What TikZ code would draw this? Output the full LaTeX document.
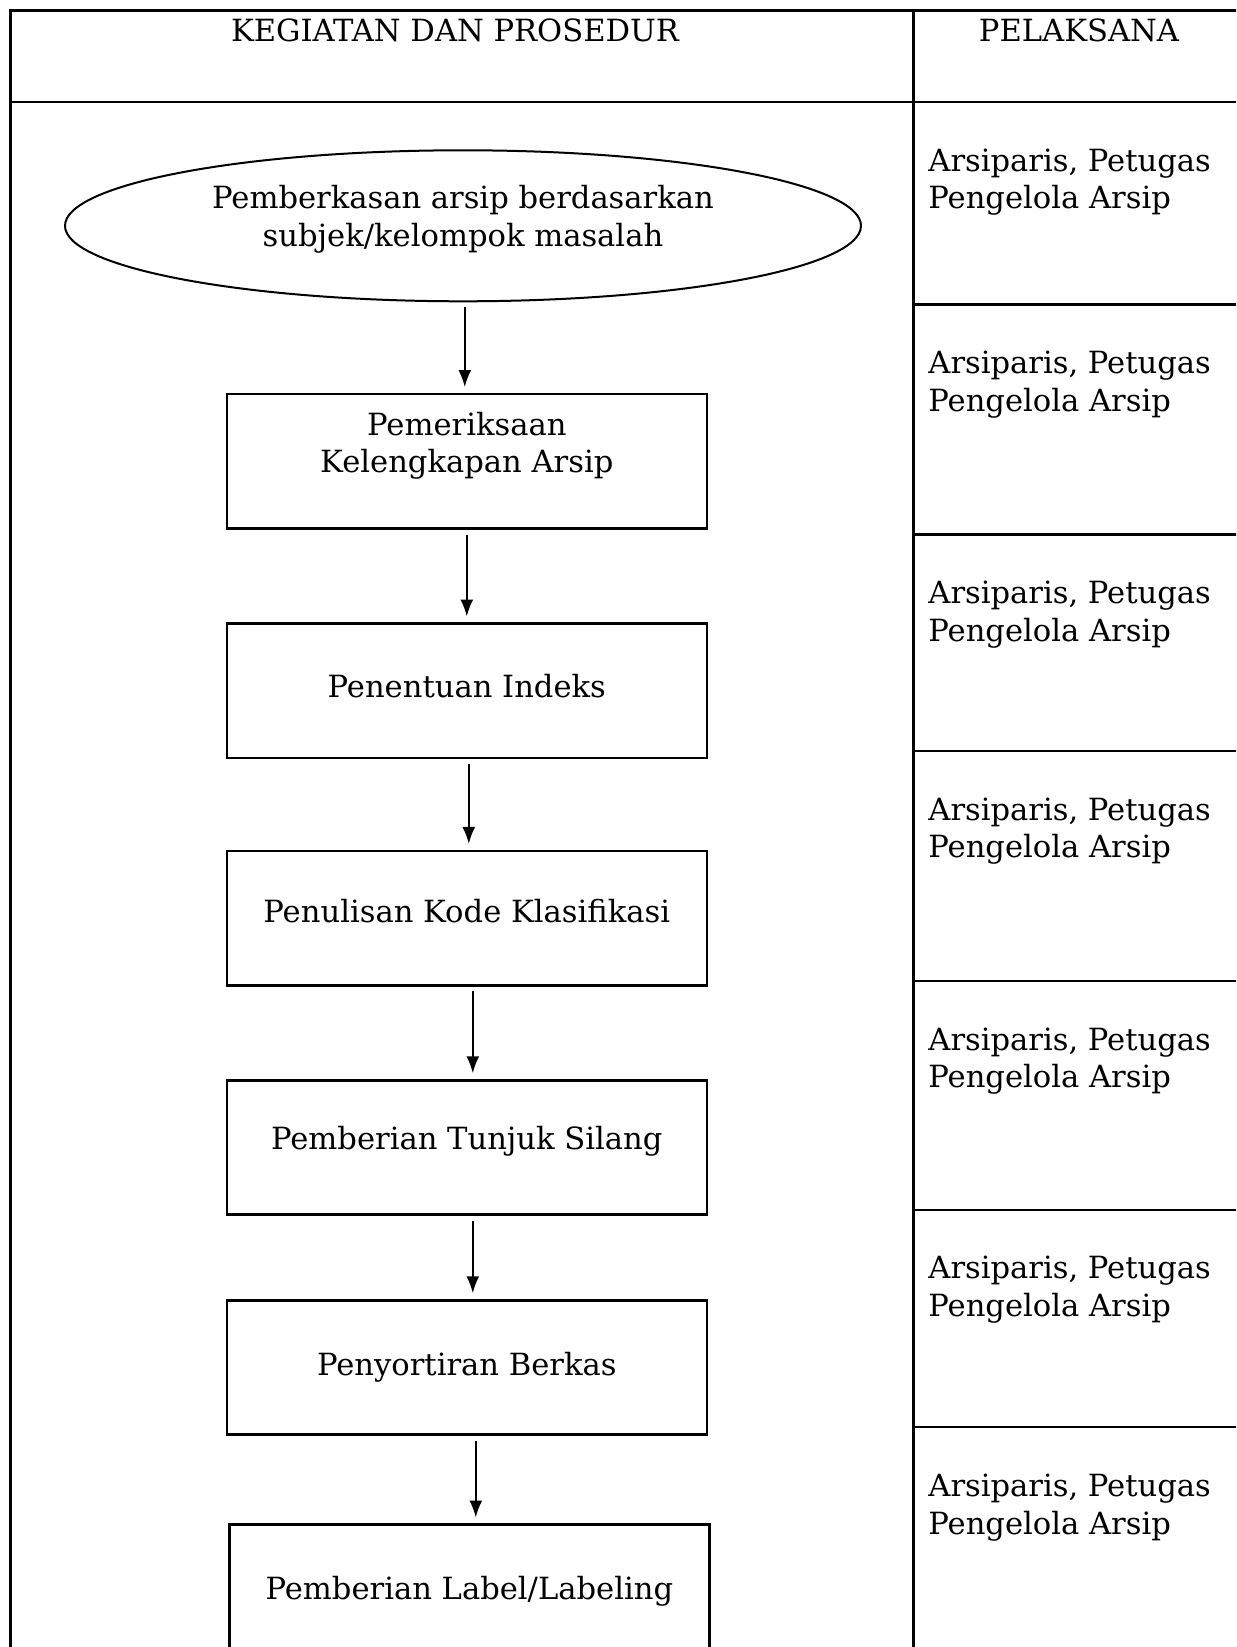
\documentclass[tikz,border=0pt]{standalone}
\usepackage{fontspec}
\setmainfont{DejaVu Serif}
\usetikzlibrary{positioning, shapes.geometric, arrows.meta}

\begin{document}
\begin{tikzpicture}[x=0.5pt, y=-0.5pt,
	font=\fontsize{15.3}{18.9}\selectfont,
	garis/.style={line width=1.2pt},
	lonjong/.style={draw, ellipse, line width=1pt, inner sep=0pt,
		minimum width=398pt, minimum height=75.5pt, align=center},
	kotak/.style={draw, line width=1.3pt, inner sep=2pt,
		minimum width=240pt, minimum height=67.2pt, align=center},
	panah/.style={-{Latex[length=8.5pt, width=6.5pt]}, line width=1pt,
		shorten <=2.4pt, shorten >=2.8pt},
	pelaksana/.style={anchor=base west, align=left, inner sep=0pt}]
	\useasboundingbox (0,0) rectangle (1236,1647);
	\clip (0,0) rectangle (1236,1647);
	
	% tabel
	\draw[garis] (1260,10.5) -- (10.5,10.5) -- (10.5,1670);
	\draw[garis] (913.6,10.5) -- (913.6,1670);
	\draw[garis] (10.5,101.9) -- (1260,101.9);
	\draw[garis] (913.6,304.5) -- (1260,304.5);
	\draw[garis] (913.6,534.5) -- (1260,534.5);
	\draw[garis] (913.6,750.8) -- (1260,750.8);
	\draw[garis] (913.6,980.8) -- (1260,980.8);
	\draw[garis] (913.6,1209.7) -- (1260,1209.7);
	\draw[garis] (913.6,1427.1) -- (1260,1427.1);
	\node[anchor=base] (judul1) at (455,42) {KEGIATAN DAN PROSEDUR};
	\node[anchor=base] (judul2) at (1079,42) {PELAKSANA};
	
	% alur kegiatan
	\node[lonjong] (pemberkasan) at (463,225.8)
	{Pemberkasan arsip berdasarkan\\subjek/kelompok masalah\\[-9pt]\mbox{}};
	\node[kotak, below = 45.2pt of pemberkasan, xshift=1.9pt] (periksa)
	{Pemeriksaan\\Kelengkapan Arsip\\\mbox{}};
	\node[kotak, below = 46.2pt of periksa, text depth=5pt] (indeks) {Penentuan Indeks};
	\node[kotak, below = 45.2pt of indeks, text depth=7pt] (kode) {Penulisan Kode Klasifikasi};
	\node[kotak, below = 46.2pt of kode, text depth=10pt] (tunjuk) {Pemberian Tunjuk Silang};
	\node[kotak, below = 41.5pt of tunjuk] (sortir) {Penyortiran Berkas};
	\node[kotak, below = 43.6pt of sortir, xshift=1.3pt] (label)
	{Pemberian Label/Labeling};
	
	\draw[panah] ([xshift=-1pt]pemberkasan.south -| periksa.north) -- ([xshift=-1pt]periksa.north);
	\draw[panah] (periksa.south) -- (indeks.north);
	\draw[panah] ([xshift=1pt]indeks.south) -- ([xshift=1pt]kode.north);
	\draw[panah] ([xshift=3pt]kode.south) -- ([xshift=3pt]tunjuk.north);
	\draw[panah] ([xshift=3pt]tunjuk.south) -- ([xshift=3pt]sortir.north);
	\draw[panah] ([xshift=4.5pt]sortir.south) -- ([xshift=4.5pt]sortir.south |- label.north);
	
	% pelaksana
	\node[pelaksana] (pel1) at (928,209) {Arsiparis, Petugas\\Pengelola Arsip};
	\node[pelaksana] (pel2) at (928,411.5) {Arsiparis, Petugas\\Pengelola Arsip};
	\node[pelaksana] (pel3) at (928,641.5) {Arsiparis, Petugas\\Pengelola Arsip};
	\node[pelaksana] (pel4) at (928,857.8) {Arsiparis, Petugas\\Pengelola Arsip};
	\node[pelaksana] (pel5) at (928,1087.8) {Arsiparis, Petugas\\Pengelola Arsip};
	\node[pelaksana] (pel6) at (928,1316.7) {Arsiparis, Petugas\\Pengelola Arsip};
	\node[pelaksana] (pel7) at (928,1534.1) {Arsiparis, Petugas\\Pengelola Arsip};
\end{tikzpicture}
\end{document}
